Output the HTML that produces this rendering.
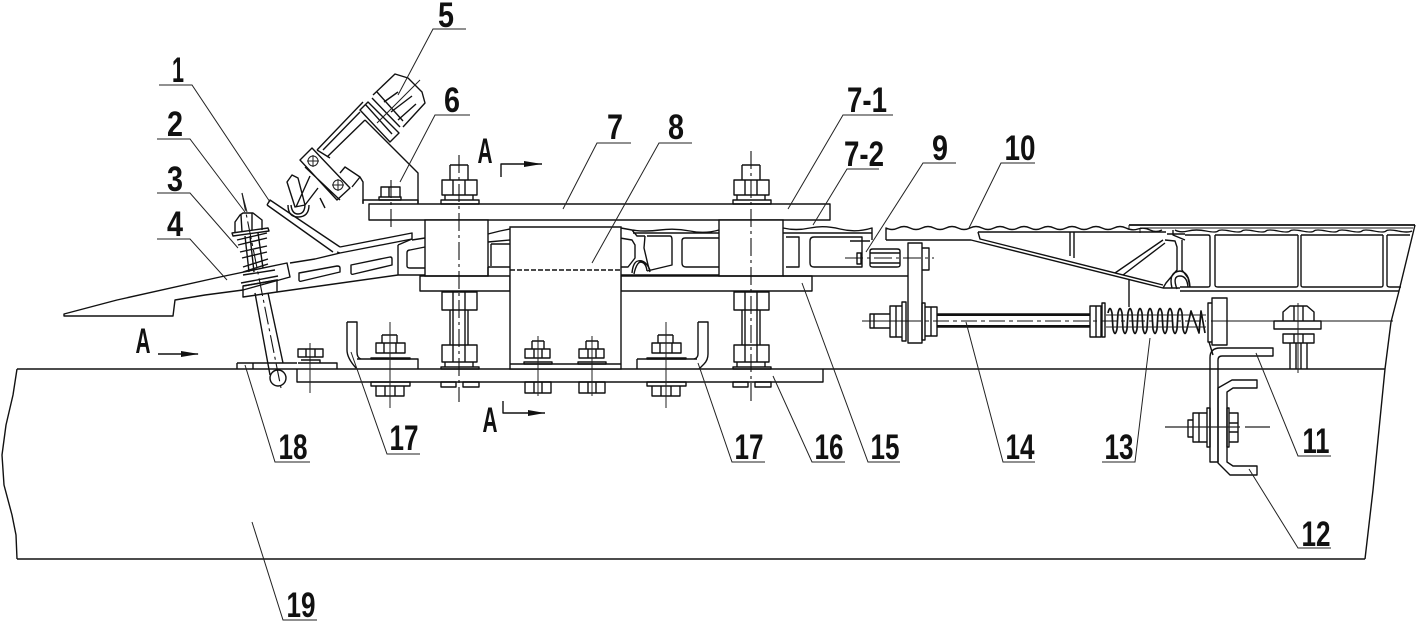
<!DOCTYPE html>
<html><head><meta charset="utf-8"><style>
html,body{margin:0;padding:0;background:#fff;width:1416px;height:624px;overflow:hidden}
svg{display:block}
.l{fill:none;stroke:#111;stroke-width:1.4;stroke-linejoin:round}
.t{fill:none;stroke:#222;stroke-width:1}
.c{fill:none;stroke:#111;stroke-width:1.1;stroke-dasharray:18 4 3 4}
.w{fill:#fff;stroke:#111;stroke-width:1.4}
text{font-family:"Liberation Sans",sans-serif;font-weight:bold;font-size:35px;fill:#111;text-anchor:middle}
</style></head><body>
<svg width="1416" height="624" viewBox="0 0 1416 624" xmlns="http://www.w3.org/2000/svg">
<defs>
<g id="big" class="l"><path d="M-9 -39V-24M9 -39V-24M-9 -39H9M-17 -24H18V-9H-17ZM-6 -24V-9M6 -24V-9M-14 -9V-4M14 -9V-4M-18 -4H20V0H-18Z"/></g>
<g id="lowbig" class="l"><path d="M-17 0H18V18H-17ZM-6 0V18M6 0V18M-9 18V53M9 18V53M-6 18V53M6 18V53M-17 53H18V70H-17ZM-6 53V70M6 53V70M-14 70V75M14 70V75M-18 75H20V77H-18ZM-18 90H-3V95H-18ZM4 90H20V95H4Z"/></g>
<g id="small" class="l"><path d="M-6 -23V-15M6 -23V-15M-6 -23H6M-13 -15H12V-6H-13ZM-4 -15V-6M4 -15V-6M-14 -2H14V0H-14ZM-13 18H13V29H-13ZM-4 18V29M4 18V29"/></g>
<g id="med" class="l"><path d="M-8 -34V-26M7 -34V-26M-8 -34H7M-14 -26H15V-16H-14ZM-6 -26V-16M6 -26V-16M-19 -11H20V-10H-19ZM-19 13H20V17H-19ZM-14 17H14V27H-14ZM-5 17V27M5 17V27"/></g>
</defs>

<!-- body -->
<path class="l" d="M17 369H1385M17 559H1365"/>
<path class="l" d="M17 369L13 395L6 425L2 455L4 485L12 515L16 535L17 559"/>
<path class="l" d="M1415 225L1399 291L1391 322L1385 369L1373 490L1365 559"/>

<!-- top beam and floor -->
<path class="l" style="stroke-width:1.8" d="M1129 225H1415"/><path class="t" d="M1129 225V230M1140 228V233M1140 228H1413"/>
<path class="l" d="M886 240V228Q892 231 898 228T910 228T922 228T934 228T946 228T958 228T970 228T982 228T994 228T1006 228T1018 228T1030 228T1042 228T1054 228T1066 228T1078 228T1090 228T1102 228T1114 228T1126 228T1138 229T1150 230T1162 230"/>
<path class="l" d="M1175 230Q1180 233 1188 231T1206 231T1218 231T1230 231T1242 231T1254 231T1266 231T1278 231T1290 231T1302 231T1314 231T1326 231T1338 231T1350 231T1362 231T1374 231T1386 231T1398 231T1412 231"/>
<path class="l" d="M886 240H971L1163 288H1180M978 232L980 239L1163 285M978 232H1166M1070 232V256M1074 232V258"/>
<path class="l" d="M1115 273L1163 240M1123 275L1165 243M1165 240L1175 241L1177 247V270L1166 283L1163 288"/>
<path class="l" d="M1173 230V235L1185 240M1182 240V270L1188 278L1190 287M1167 234H1185"/>
<path class="l" d="M1177 289Q1172 276 1180 276Q1187 276 1188 287M1172 288Q1168 272 1180 271Q1189 272 1190 287"/>
<path class="l" d="M1185 235H1208Q1210 235 1210 237V285Q1210 287 1208 287H1180M1215 235V285Q1215 287 1218 287H1296Q1298 287 1298 285V235M1301 235V285Q1301 287 1303 287H1381Q1383 287 1383 285V235M1387 235V285Q1387 287 1390 287H1401M1215 235H1298M1301 235H1383M1387 235H1410M1180 291H1399"/>
<path class="l" d="M1129 279V307"/>

<!-- top plate -->
<path class="l" d="M369 204H830V220H369ZM363 204V200H418V204"/>
<!-- pillars and lower plate -->
<path class="w" d="M425 220H488V276H425ZM719 220H783V276H719Z"/>
<path class="l" d="M420 276H510V291H420ZM621 276H812V291H621Z"/>
<!-- extrusion -->
<path class="l" d="M488 234L500 231L510 229M488 242L510 240M491 244H510M491 244V266M488 267H510M488 276V267"/>
<path class="l" d="M621 228L632 230Q645 232 660 230T690 231T719 230M633 233H719M632 230L637 236H645M620 238L632 240L635 245V258L628 267H620"/>
<path class="l" d="M647 236H670Q672 236 672 240V265L647 271M645 236L644 248L648 265L650 272M682 241Q682 238 685 238H719M682 241V263Q682 267 686 267H719"/>
<path class="l" d="M632 273Q633 262 638 261Q645 259 650 270M634 274Q636 264 640 262Q646 262 647 271M621 275H719"/>
<path class="l" d="M783 228Q796 231 810 228T840 229T872 228V240M783 233H872M786 237H799V267H786M814 237H862V267H814Q810 267 810 263V241Q810 237 814 237M783 276H908"/>
<path class="l" d="M850 241H870"/>
<!-- block 8 -->
<path class="w" d="M510 227H621V369H510Z"/>
<path class="l" d="M510 364H621" /><path class="l" style="stroke-dasharray:5 2" d="M510 270H621"/>

<!-- lower plate 16 & pads -->
<path class="l" d="M297 369V382H823V369M298 363H337V369M637 359H697M637 359V369M357 359H418V369"/>
<path class="l" d="M237 363H297M237 363V369M253 363V369"/>
<path class="l" d="M698 322H708V354Q708 360 704 364L699 369M698 322V354Q698 358 694 359"/>
<path class="l" d="M347 322H357V352Q357 358 361 359M347 322V350Q347 358 356 368"/>

<!-- bolts -->
<use href="#big" x="459" y="204"/><use href="#big" x="751" y="204"/>
<use href="#lowbig" x="459" y="292"/><use href="#lowbig" x="751" y="292"/>
<use href="#small" x="538" y="364"/><use href="#small" x="592" y="364"/>
<use href="#med" x="666" y="369"/><use href="#med" x="390" y="369"/>
<path class="c" d="M459 155V402M751 151V403"/>
<path class="t" d="M538 336V396M592 336V396M666 322V408M390 322V408M310 343V393"/>
<path class="l" d="M298 349H323V357H298ZM306 349V357M315 349V357M301 360H320V363"/>

<!-- left wedge plate -->
<path class="l" d="M64 314L117 300L220 277L287 263L290 277L243 290L205 295L175 300L173 316H64Z"/>
<path class="l" d="M290 263L315 259L340 253L337 252M340 247L412 233L412 239L340 253M267 205L270 200L340 247M267 205L333 252"/>
<path class="l" d="M277 292L398 275H425M398 245V275"/>
<path class="l" d="M299 273L337 266Q340 266 340 268V272L302 281Q299 282 299 280ZM351 265L390 257Q392 257 392 259V265L354 274Q351 275 351 273ZM425 247L410 250Q407 250 407 253V266Q407 268 410 268H425"/>
<path class="l" d="M398 245L412 239M412 240L425 238"/>

<!-- spring assembly 2/3 -->
<path class="l" d="M235 233V222L240 215L243 213H253L262 220V230M241 215L242 232M252 213V230"/>
<path class="l" d="M232 233L268 228L269 231L233 236ZM237 240L267 233M238 245L267 238M240 252L267 246M242 258L267 252M243 267L268 259M243 272L268 264M243 275L275 270M241 283L278 276M243 286L278 280"/>
<path class="l" d="M245 236L249 272M258 233L263 268M250 236L254 272"/>
<path class="l" d="M243 286L277 280L277 292L243 297Z"/>
<path class="l" d="M255 293L270 375M268 293L283 363"/>
<circle class="l" cx="278" cy="378" r="8"/>
<path class="c" d="M242 193L281 388"/>
<path class="t" d="M242 193L247 212"/>

<!-- switch 5 -->
<path class="l" d="M300 160L312 148L350 188L337 200ZM305 167L340 200"/>
<path class="l" d="M317 150L363 102M323 150L360 112M327 157L365 120M317 150L330 158"/>
<path class="l" d="M360 110L390 142L399 133L368 102ZM365 104L392 134M372 98L400 127M377 92L403 121"/>
<path class="l" d="M373 95L395 74L408 78L422 92L425 103L403 127M384 102L398 92M391 112L412 96M398 120L416 104"/>
<path class="l" d="M365 120L418 173V203M340 173L345 167L360 177L352 187M360 177L363 182V203"/>
<path class="t" d="M420 80L377 123"/>
<circle class="t" cx="313" cy="161" r="5"/><circle class="t" cx="338" cy="185" r="5"/>
<path class="t" d="M307 161H319M313 155V167M332 185H344M338 179V191"/>
<path class="l" d="M287 182L292 175L298 178L305 205L295 207ZM288 205Q288 217 298 217Q309 217 309 205M291 205Q292 214 298 214Q305 214 305 204M296 207L310 176M305 205L318 188M320 198L325 208"/>
<path class="l" d="M381 187H400V197H381ZM389 187V197M379 197H401V200H379Z"/>
<path class="c" d="M391 180V228"/>

<!-- connector 9 / link -->
<path class="l" d="M870 251Q870 249 873 249H897Q900 249 900 251V265Q900 267 897 267H873Q870 267 870 265ZM870 253H900M870 263H900"/>
<path class="l" d="M857 253H861V264H857Z"/>
<path class="l" d="M908 243H922V343H908ZM922 248H929V270H922Z"/>
<path class="c" d="M845 258H934"/>

<!-- rod 14 -->
<path class="l" d="M937 314H1090M937 327H1090"/><path class="l" style="stroke-width:2" d="M937 315H1090M937 326H1090"/>
<path class="l" d="M870 314H890V328H870ZM874 314V328M890 306H902V337H890ZM896 306V337M902 302H906V341H902ZM922 303H925V340H922ZM925 307H937V336H925ZM931 307V336"/>
<path class="l" d="M1090 306H1101V337H1090ZM1096 306V337M1102 303H1105V337H1102Z"/>
<path class="l" d="M1208 303H1212V342H1208ZM1212 298H1227V345H1212ZM1209 342L1213 355"/>
<path class="c" style="stroke-dasharray:none" d="M862 321H905M1211 321H1393"/>
<path class="c" style="stroke-dasharray:16 4 4 4" d="M905 321H1206"/>

<!-- spring 13 -->
<path class="l" style="stroke-width:1.7" d="M1108 313q2 -9 4 0l1 16q2 9 4 0l1 -16q2 -9 4 0l1 16q2 9 4 0l1 -16q2 -9 4 0l1 16q2 9 4 0l1 -16q2 -9 4 0l1 16q2 9 4 0l1 -16q2 -9 4 0l1 16q2 9 4 0l1 -16q2 -9 4 0l1 16q2 9 4 0l1 -16q2 -9 4 0l1 16q2 9 4 0l1 -16q2 -9 4 0l1 16q2 9 4 0L1191 311L1199 333L1201 311L1205 333"/>
<path class="t" d="M1106 315H1206M1106 327H1206"/>

<!-- bracket 11, channel 12, bolts -->
<path class="l" d="M1210 462V358Q1210 348 1220 348H1273V356H1222Q1218 356 1218 360V462H1210Z"/>
<path class="l" d="M1257 380H1232L1218 388V463L1230 475H1257V466H1233L1227 462V392L1233 388H1257Z"/>
<path class="l" d="M1188 420H1193V437H1188ZM1193 413H1207V442H1193ZM1199 413V442M1207 408H1210V447H1207ZM1227 408H1229V447H1227ZM1229 413H1238V442H1229ZM1229 423H1238M1229 432H1238"/>
<path class="t" style="stroke-width:1.2" d="M1165 427H1240M1245 427H1270"/>
<path class="l" d="M1283 321V312L1290 306H1307L1314 312V321ZM1294 306V321M1303 306V321M1274 321H1321V329H1274ZM1283 334H1314V343H1283ZM1294 334V343M1303 334V343M1290 343V369M1307 343V369M1296 343V369M1301 343V369"/>
<path class="t" d="M1298 303V373"/>

<!-- section arrows -->
<path class="l" d="M501 177V164H520M503 401V413H525M158 354H178"/>
<path d="M524 161L542 164L524 167ZM528 410L545 413L528 416ZM181 351L199 354L181 357Z" fill="#111"/>
<path class="l" d="M520 164H542M525 413H545M178 354H198"/>

<!-- leaders -->
<path class="t" d="M159 85H192L270 202M157 139H190L245 212M157 193H190L238 248M157 239H190L227 280"/>
<path class="t" d="M466 29H433L398 95M470 115H435L400 182M631 143H597L563 209M692 143H659L592 263M893 115H843L788 209M879 169H847L813 225M956 163H923L866 252M1035 163H1001L969 228"/>
<path class="t" d="M1331 456H1298L1256 353M1331 548H1298L1249 469M1102 462H1135L1150 338M1035 462H1003L966 322M900 462H868L802 283M845 462H812L773 376M765 462H732L698 363M420 454H387L351 352M310 462H275L245 365M317 620H283L252 522"/>

<!-- labels -->
<text x="178" y="82" textLength="12" lengthAdjust="spacingAndGlyphs">1</text>
<text x="175" y="136" textLength="16" lengthAdjust="spacingAndGlyphs">2</text>
<text x="175" y="191" textLength="16" lengthAdjust="spacingAndGlyphs">3</text>
<text x="175" y="236" textLength="16" lengthAdjust="spacingAndGlyphs">4</text>
<text x="446" y="27" textLength="16" lengthAdjust="spacingAndGlyphs">5</text>
<text x="452" y="112" textLength="16" lengthAdjust="spacingAndGlyphs">6</text>
<text x="615" y="139" textLength="16" lengthAdjust="spacingAndGlyphs">7</text>
<text x="676" y="139" textLength="16" lengthAdjust="spacingAndGlyphs">8</text>
<text x="867" y="112" textLength="40" lengthAdjust="spacingAndGlyphs">7-1</text>
<text x="864" y="166" textLength="40" lengthAdjust="spacingAndGlyphs">7-2</text>
<text x="940" y="160" textLength="16" lengthAdjust="spacingAndGlyphs">9</text>
<text x="1020" y="160" textLength="31" lengthAdjust="spacingAndGlyphs">10</text>
<text x="1316" y="453" textLength="27" lengthAdjust="spacingAndGlyphs">11</text>
<text x="1316" y="546" textLength="29" lengthAdjust="spacingAndGlyphs">12</text>
<text x="1119" y="459" textLength="29" lengthAdjust="spacingAndGlyphs">13</text>
<text x="1020" y="459" textLength="29" lengthAdjust="spacingAndGlyphs">14</text>
<text x="885" y="459" textLength="29" lengthAdjust="spacingAndGlyphs">15</text>
<text x="829" y="459" textLength="29" lengthAdjust="spacingAndGlyphs">16</text>
<text x="749" y="459" textLength="29" lengthAdjust="spacingAndGlyphs">17</text>
<text x="404" y="450" textLength="29" lengthAdjust="spacingAndGlyphs">17</text>
<text x="293" y="459" textLength="29" lengthAdjust="spacingAndGlyphs">18</text>
<text x="301" y="617" textLength="29" lengthAdjust="spacingAndGlyphs">19</text>
<text x="143" y="353" textLength="15" lengthAdjust="spacingAndGlyphs">A</text>
<text x="485" y="163" textLength="15" lengthAdjust="spacingAndGlyphs">A</text>
<text x="490" y="432" textLength="15" lengthAdjust="spacingAndGlyphs">A</text>
</svg>
</body></html>
